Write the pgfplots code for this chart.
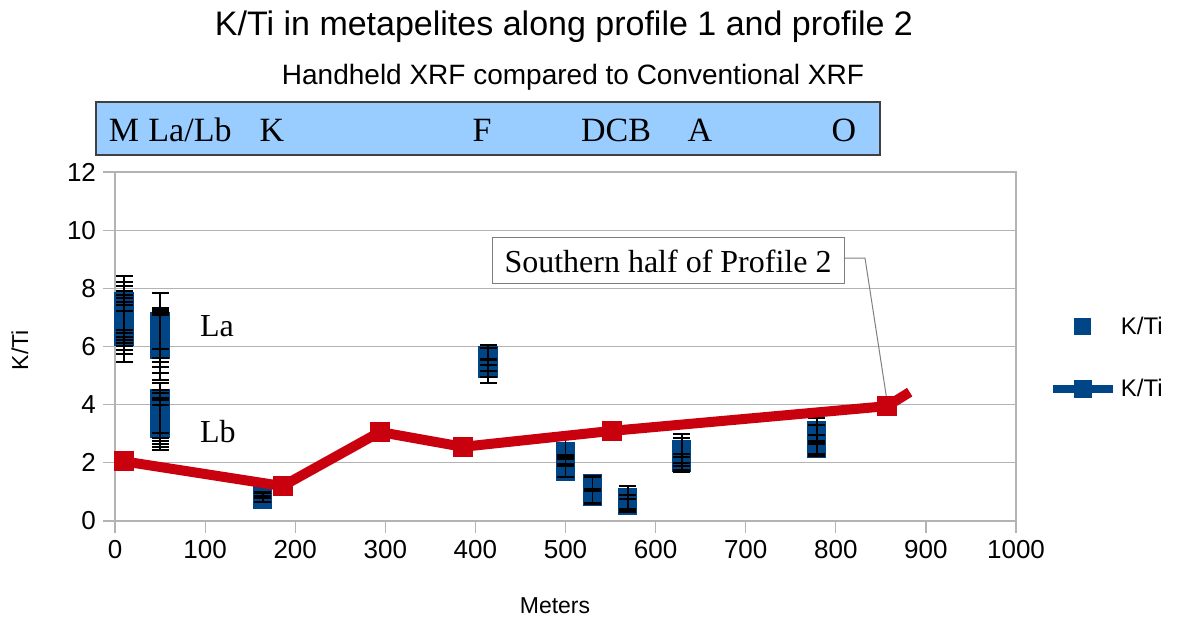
\documentclass[border=0pt]{standalone}
\usepackage{fontspec}
\setmainfont{Liberation Sans}
\newfontfamily\seriffont{Liberation Serif}
\usepackage{pgfplots}
\usepackage{pgfplotstable}
\pgfplotsset{compat=1.18}
\definecolor{myblue}{RGB}{0,69,134}
\definecolor{myred}{RGB}{201,0,14}
\definecolor{boxblue}{RGB}{153,204,255}
\definecolor{gridgray}{RGB}{179,179,179}

\pgfplotsset{
  legA/.style={legend image code/.code={\draw[##1] plot coordinates {(15pt,0pt)};}},
  legB/.style={legend image code/.code={\draw[mark repeat=2,mark phase=2,##1] plot coordinates {(0pt,0pt)(15pt,0pt)(30pt,0pt)};}},
}

\pgfplotstableread{
x y ep em
10 7.55 0.87 0.98
10 7.45 0.77 0.99
10 7.35 0.73 1.02
10 7.20 0.70 0.98
10 7.00 0.77 0.88
10 6.80 0.87 0.78
10 6.60 0.93 0.72
10 6.45 0.98 0.71
10 6.35 0.87 0.88
50 6.85 0.99 0.94
50 6.60 0.72 1.00
50 6.40 0.85 0.93
50 6.20 0.98 0.90
50 6.05 1.07 0.95
50 5.90 1.18 1.05
50 4.20 0.55 1.17
50 4.00 0.50 1.15
50 3.80 0.60 1.05
50 3.55 0.68 0.90
50 3.35 0.81 0.80
50 3.20 0.80 0.75
164 0.80 0.15 0.15
164 0.75 0.10 0.10
164 0.90 0.10 0.10
414 5.70 0.35 0.35
414 5.55 0.40 0.40
414 5.35 0.60 0.60
414 5.25 0.30 0.30
500 2.40 0.45 0.45
500 2.20 0.05 0.05
500 1.85 0.35 0.35
500 1.70 0.20 0.20
530 1.30 0.25 0.25
530 1.05 0.45 0.45
530 0.85 0.25 0.25
569 0.80 0.40 0.40
569 0.60 0.30 0.30
569 0.55 0.20 0.20
629 2.45 0.55 0.55
629 2.30 0.55 0.55
629 2.10 0.10 0.10
629 2.00 0.30 0.30
779 3.10 0.45 0.45
779 3.00 0.30 0.30
779 2.80 0.50 0.50
779 2.60 0.35 0.35
779 2.50 0.25 0.25
}\ktidata

\pgfplotstableread{
x y
10 2.05
186 1.20
294 3.06
386 2.55
552 3.10
857 3.95
882 4.43
}\ktiline

\begin{document}
\begin{tikzpicture}
\useasboundingbox (0pt,0pt) rectangle (588.5pt,309.5pt);
\node[font=\fontsize{17}{20}\selectfont] at (282pt,296pt) {K/Ti in metapelites along profile 1 and profile 2};
\node[font=\fontsize{14}{17}\selectfont] at (286.5pt,271pt) {Handheld XRF compared to Conventional XRF};
\draw[fill=boxblue, draw=black!75, line width=0.6pt] (48pt,232pt) rectangle (440pt,258.5pt);
\begin{scope}[every node/.style={font=\seriffont\fontsize{17}{20}\selectfont, anchor=base}]
\node at (62pt,238.5pt) {M};
\node at (95pt,238.5pt) {La/Lb};
\node at (136pt,238.5pt) {K};
\node at (241pt,238.5pt) {F};
\node at (308pt,238.5pt) {DCB};
\node at (350pt,238.5pt) {A};
\node at (422pt,238.5pt) {O};
\end{scope}
\node[font=\fontsize{11.5}{14}\selectfont] at (277.5pt,6.5pt) {Meters};
\node[font=\fontsize{11.5}{14}\selectfont, rotate=90] at (10pt,134.5pt) {K/Ti};

\begin{axis}[
  at={(57.5pt,49pt)}, anchor=south west,
  scale only axis, width=450.5pt, height=174.5pt,
  xmin=0, xmax=1000, ymin=0, ymax=12,
  xtick={0,100,...,1000}, ytick={0,2,...,12},
  xtick pos=bottom, ytick pos=left,
  tick align=outside, major tick length=6pt,
  ymajorgrids, grid style={gridgray, line width=0.6pt},
  axis line style={gridgray, line width=0.6pt},
  tick style={gridgray, line width=0.6pt},
  ticklabel style={font=\fontsize{13}{15}\selectfont, text=black},
  /pgf/number format/assume math mode=true,
  /pgf/number format/1000 sep={},
  legend style={draw=none, fill=none, at={(1.036,0.467)}, anchor=west,
    inner xsep=0pt, inner ysep=0pt, row sep=17pt,
    font=\fontsize{12}{14}\selectfont},
  clip=false,
]
\addlegendimage{only marks, mark=square*, mark size=4pt, color=myblue, mark options={fill=myblue}, legA}
\addlegendentry{K/Ti}
\addlegendimage{color=myblue, line width=4pt, mark=square*, mark size=4.2pt, mark options={solid, fill=myblue, line width=0.4pt}, legB}
\addlegendentry{K/Ti}

% blue square points (drawn as short thick bars so that the error bars lie on top)
\addplot[forget plot, draw=none, mark=none,
  error bars/.cd, y dir=both, y fixed=0.33,
  error bar style={draw=myblue, line width=9.6pt, line cap=butt},
  error mark=none]
  table[x=x,y=y] {\ktidata};
\addplot[forget plot, draw=none, mark=none,
  error bars/.cd, y dir=both, y explicit,
  error bar style={draw=black, line width=0.9pt},
  error mark=-,
  error mark options={draw=black, rotate=90, line width=1.1pt, mark size=4.25pt}]
  table[x=x,y=y,y error plus=ep,y error minus=em] {\ktidata};

\addplot[forget plot, color=myred, line width=5pt, mark=square*, mark size=4.75pt,
  mark indices={1,2,3,4,5,6}, mark options={solid, fill=myred, draw=myred, line width=0.4pt}]
  table[x=x,y=y] {\ktiline};

\node[font=\seriffont\fontsize{16}{19}\selectfont, anchor=west] at (axis cs:86.6,6.7) {La};
\node[font=\seriffont\fontsize{16}{19}\selectfont, anchor=west] at (axis cs:86.6,3.06) {Lb};
\node[font=\seriffont\fontsize{16}{19}\selectfont, draw=gridgray!70!black, fill=white, line width=0.5pt,
  minimum width=176pt, minimum height=23pt, inner sep=0pt] (ann) at (axis cs:613.8,8.94) {Southern half of Profile 2};
\draw[gray, line width=0.5pt] (axis cs:809,9.04) -- (axis cs:832.4,9.04) -- (axis cs:857,4.1);
\end{axis}
\end{tikzpicture}
\end{document}
